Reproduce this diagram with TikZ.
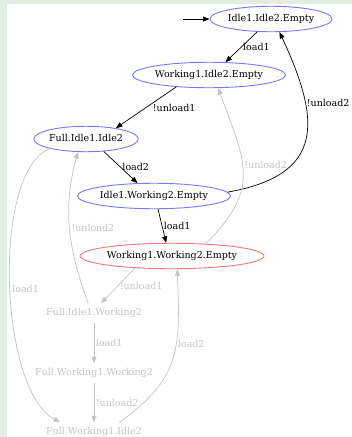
\documentclass[tikz,border=0pt]{standalone}
\usepackage{fontspec}
\setmainfont{DejaVu Serif}
\usepackage{tikz}
\usetikzlibrary{shapes.geometric,arrows.meta}
\definecolor{bggreen}{RGB}{226,238,226}
\definecolor{stateblue}{RGB}{120,120,255}
\definecolor{statered}{RGB}{255,120,120}
\definecolor{fadegray}{RGB}{196,196,196}

\begin{document}
\begin{tikzpicture}[x=1pt, y=-1pt,
  font=\fontsize{9.5}{11}\selectfont,
  state/.style={ellipse, draw=stateblue, line width=0.9pt, inner xsep=0pt, inner ysep=4.5pt, text height=7pt, text depth=2pt},
  ghost/.style={inner xsep=2pt, inner ysep=5pt, text height=7pt, text depth=2pt, text=fadegray},
  arrow/.style={-{Triangle[length=6.5pt, width=5pt]}, line width=0.7pt},
  faded/.style={arrow, draw=fadegray, text=fadegray},
  lbl/.style={right, inner sep=1.5pt},
]
% Background
\fill[bggreen] (0,0) rectangle (352,437);
\fill[white] (7,4) rectangle (352,437);
\useasboundingbox (0,0) rectangle (352,437);

% Nodes
\node[state] (idleidle) at (271,19) {Idle1.Idle2.Empty};
\node[state] (workidle) at (209,75) {Working1.Idle2.Empty};
\node[state] (fullidle) at (86,139) {Full.Idle1.Idle2};
\node[state] (idlework) at (154,196) {Idle1.Working2.Empty};
\node[state, draw=statered] (workwork) at (172,256) {Working1.Working2.Empty};
\node[ghost] (fullidlework) at (94,313) {Full.Idle1.Working2};
\node[ghost] (fullworkwork) at (94,373) {Full.Working1.Working2};
\node[ghost] (fullworkidle) at (94,432) {Full.Working1.Idle2};
\coordinate (start) at (183,19);

% Arrows
\draw[arrow] (start) -- (idleidle);
\draw[arrow] (idleidle.223) -- node[lbl] {load1} (workidle.38);
\draw[arrow] (workidle.200) -- node[lbl, xshift=5pt] {!unload1} (fullidle.20);
\draw[arrow] (fullidle.-35) -- node[lbl] {load2} (idlework.142);
\draw[arrow] (idlework.3) to[out=10, in=-65, looseness=1.5] node[lbl, pos=0.7] {!unload2} (idleidle.-57);
\draw[arrow] (idlework.-73) -- node[lbl] {load1} (workwork.114);
\draw[faded] (workwork.20) to[out=45, in=-70, looseness=1.3] node[lbl, pos=0.56] {!unload2} (workidle.-55);
\draw[faded] (fullidlework.121) to[out=110, in=255] node[lbl, pos=0.5] {!unload2} (fullidle.238);
\draw[faded] (fullidle.195) to[out=200, in=152, out distance=62pt, in distance=70pt] node[lbl, pos=0.52] {load1} (fullworkidle.164);
\draw[faded] (workwork.198) -- node[lbl] {!unload1} (fullidlework.54);
\draw[faded] (fullidlework) -- node[lbl] {load1} (fullworkwork);
\draw[faded] (fullworkwork) -- node[lbl] {!unload2} (fullworkidle);
\draw[faded] (fullworkidle.21) to[out=35, in=-88, looseness=1.2] node[lbl, pos=0.6] {load2} (workwork.-68);
\end{tikzpicture}
\end{document}
